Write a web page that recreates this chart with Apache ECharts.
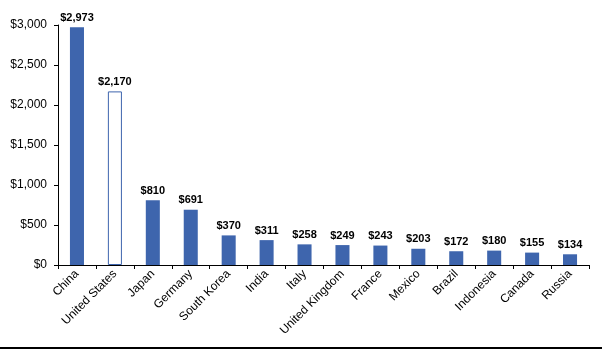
<!DOCTYPE html>
<html><head><meta charset="utf-8">
<script src="https://cdn.jsdelivr.net/npm/echarts@6/dist/echarts.min.js"></script>
<style>html,body{margin:0;padding:0;background:#fff}#c{width:607px;height:357px}</style>
</head><body><div id="c"></div>
<script>
const categories = ["China","United States","Japan","Germany","South Korea","India","Italy","United Kingdom","France","Mexico","Brazil","Indonesia","Canada","Russia"];
const values = [2973,2170,810,691,370,311,258,249,243,203,172,180,155,134];
const hollowIndex = 1;
const yTicks = [0,500,1000,1500,2000,2500,3000];

const blue = '#3E65AD';
const chart = echarts.init(document.getElementById('c'), null, {renderer:'canvas'});
const fmt = v => '$' + v.toLocaleString('en-US');
chart.setOption({
  animation:false,
  grid:{left:58,right:18,top:25,bottom:92,containLabel:false},
  xAxis:{type:'category',data:categories,
    axisLine:{lineStyle:{color:'#000',width:1}},
    axisTick:{show:true,length:4,lineStyle:{color:'#000'}},
    axisLabel:{rotate:45,interval:0,color:'#000',fontFamily:'Liberation Sans, Arial',fontSize:12,margin:7}},
  yAxis:{type:'value',min:yTicks[0],max:yTicks[yTicks.length-1],interval:500,
    splitLine:{show:false},
    axisLine:{show:true,lineStyle:{color:'#000',width:1}},
    axisTick:{show:true,length:4,lineStyle:{color:'#000'}},
    axisLabel:{color:'#000',fontFamily:'Liberation Sans, Arial',fontSize:12,margin:11,formatter:fmt}},
  graphic:[{type:'rect',shape:{x:0,y:347,width:602,height:2},style:{fill:'#000'}}],
  series:[{type:'bar',barWidth:'37%',
    data:values.map((v,i)=> i===hollowIndex ? {value:v,itemStyle:{color:'#fff',borderColor:blue,borderWidth:1}} : {value:v}),
    itemStyle:{color:blue},
    label:{show:true,position:'top',distance:4,formatter:p=>fmt(p.value),fontWeight:'bold',fontSize:11,color:'#000',fontFamily:'Liberation Sans, Arial'}}]
});
</script></body></html>
